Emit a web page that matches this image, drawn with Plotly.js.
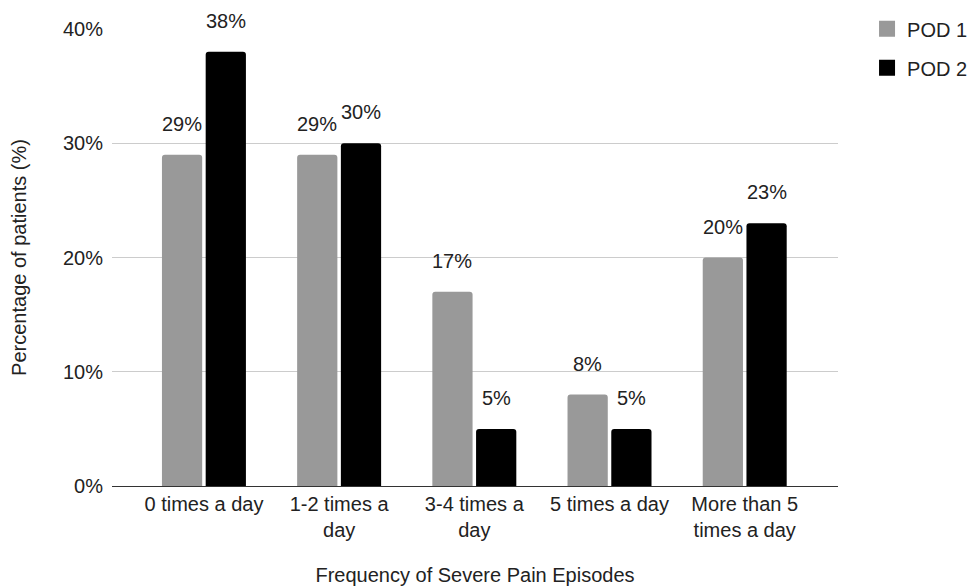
<!DOCTYPE html>
<html>
<head>
<meta charset="utf-8">
<script src="https://cdn.plot.ly/plotly-3.0.1.min.js"></script>
<style>
  html, body { margin: 0; padding: 0; background: #fff; }
  #chart { width: 969px; height: 586px; }
</style>
</head>
<body>
<div id="chart"></div>
<script>
// Frequency of severe pain episodes, share of patients per post-operative day
const categories = ['0 times a day', '1-2 times a<br>day', '3-4 times a<br>day', '5 times a day', 'More than 5<br>times a day'];
const pod1 = [29, 29, 17, 8, 20];
const pod2 = [38, 30, 5, 5, 23];
const seriesNames = ['POD 1', 'POD 2'];
const seriesColors = ['#999999', '#000000'];
const yTickVals = [0, 10, 20, 30, 40];
const yTickText = ['0%', '10%', '20%', '30%', '40%'];

const font = { family: 'Liberation Sans, Arial, sans-serif', size: 20, color: '#222' };

const traces = [];
[pod1, pod2].forEach((vals, s) => {
  traces.push({
    type: 'bar', name: seriesNames[s], x: categories, y: vals,
    marker: { color: seriesColors[s], cornerradius: 3 },
    showlegend: false, hoverinfo: 'skip'
  });
});
// legend entries with larger square swatches
seriesNames.forEach((nm, s) => {
  traces.push({
    type: 'scatter', mode: 'markers', name: nm, legendgroup: 'g' + s,
    x: [null], y: [null],
    marker: { symbol: 'square', size: 20, color: seriesColors[s] },
    hoverinfo: 'skip'
  });
});

// value labels floating above each bar
const slot = 0.3235;
const annotations = [];
[pod1, pod2].forEach((vals, s) => {
  vals.forEach((v, i) => {
    annotations.push({
      x: i + (s === 0 ? -slot / 2 : slot / 2),
      y: v, xref: 'x', yref: 'y',
      text: v + '%', showarrow: false,
      yanchor: 'middle', yshift: 31,
      font: font
    });
  });
});

const layout = {
  width: 969, height: 586,
  margin: { l: 112, r: 131, t: 29, b: 100, autoexpand: false },
  paper_bgcolor: '#fff', plot_bgcolor: '#fff',
  font: font,
  barmode: 'group',
  bargap: 0.353,
  bargroupgap: 0.08,
  showlegend: true,
  legend: {
    x: 1.04, y: 1.043, xanchor: 'left', yanchor: 'top',
    font: font, tracegroupgap: 10, traceorder: 'grouped', itemwidth: 30
  },
  xaxis: {
    type: 'category',
    range: [-0.68, 4.69],
    showgrid: false,
    showline: true, linecolor: '#333', linewidth: 1,
    ticks: '', tickfont: font,
    title: { text: 'Frequency of Severe Pain Episodes', font: font, standoff: 30 },
    fixedrange: true
  },
  yaxis: {
    range: [0, 40],
    tickvals: yTickVals, ticktext: yTickText,
    showgrid: true, gridcolor: '#cccccc', gridwidth: 1,
    zeroline: false, showline: false, ticks: '',
    ticklabelstandoff: 8,
    tickfont: font,
    title: { text: 'Percentage of patients (%)', font: font, standoff: 30 },
    fixedrange: true
  },
  annotations: annotations
};

Plotly.newPlot('chart', traces, layout, { displayModeBar: false, staticPlot: true });
</script>
</body>
</html>
